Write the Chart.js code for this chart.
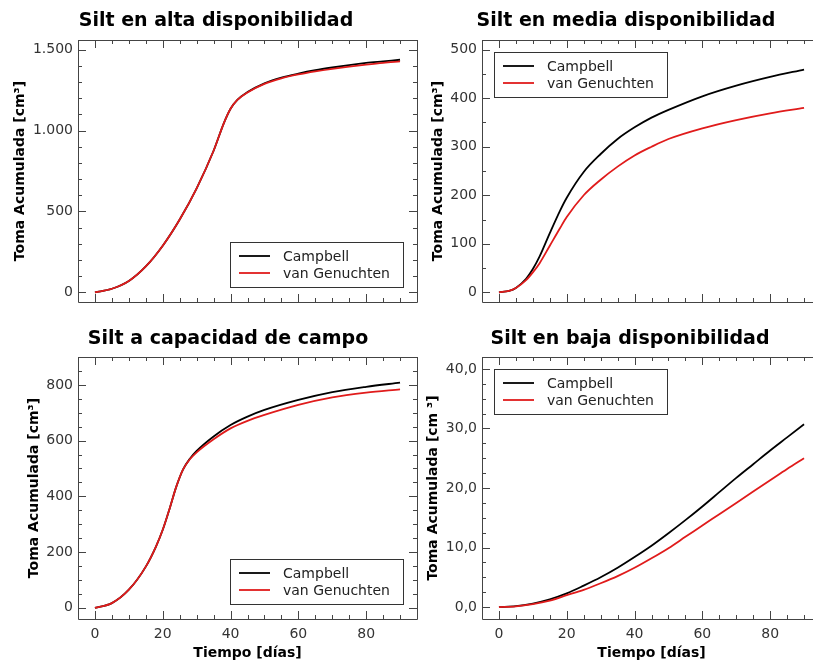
<!DOCTYPE html>
<html lang="es">
<head>
<meta charset="utf-8">
<title>Toma acumulada en Silt</title>
<script src="https://cdn.jsdelivr.net/npm/chart.js@4.4.1/dist/chart.umd.min.js"></script>
<style>
  html, body { margin: 0; background: #fff; overflow: hidden; }
  #figura { position: relative; width: 813px; height: 664px; overflow: hidden; }
  #figura canvas { position: absolute; }
</style>
</head>
<body>
<div id="figura">
  <canvas id="alta" width="430" height="320" style="left:0;top:0"></canvas>
  <canvas id="media" width="415" height="320" style="left:420px;top:0"></canvas>
  <canvas id="campo" width="430" height="344" style="left:0;top:320px"></canvas>
  <canvas id="baja" width="415" height="344" style="left:420px;top:320px"></canvas>
</div>
<script>
// valores (dias vs cm3)
const diasAlta = [0, 5, 10, 15, 20, 25, 30, 35, 38, 40, 42, 45, 50, 55, 60, 65, 70, 75, 80, 85, 90];
const campbellAlta = [0, 22, 70, 160, 288, 450, 643, 875, 1045, 1135, 1190, 1238, 1292, 1327, 1352, 1373, 1390, 1405, 1418, 1428, 1438];
const genuchtenAlta = [0, 22, 70, 160, 288, 450, 643, 875, 1045, 1135, 1190, 1236, 1289, 1323, 1347, 1366, 1382, 1396, 1408, 1419, 1428];

const diasMedia = [0, 3, 5, 8, 10, 12, 15, 18, 20, 25, 30, 35, 40, 45, 50, 60, 70, 80, 90];
const campbellMedia = [0, 3, 9, 28, 48, 74, 122, 168, 195, 248, 285, 316, 340, 360, 376, 404, 426, 444, 459];
const genuchtenMedia = [0, 3, 9, 25, 41, 60, 96, 132, 155, 200, 232, 259, 282, 300, 316, 338, 355, 369, 380];

const diasCampo = [0, 5, 10, 15, 18, 20, 22, 24, 26, 28, 30, 35, 40, 45, 50, 60, 70, 80, 90];
const campbellCampo = [0, 17, 65, 148, 220, 280, 355, 435, 497, 535, 563, 615, 656, 686, 710, 746, 774, 793, 808];
const genuchtenCampo = [0, 17, 65, 148, 220, 280, 355, 435, 497, 533, 558, 605, 644, 671, 692, 728, 755, 772, 784];

const diasBaja = [0, 5, 10, 15, 20, 25, 30, 35, 40, 45, 50, 55, 60, 65, 70, 75, 80, 85, 90];
const campbellBaja = [0, 0.15, 0.6, 1.3, 2.3, 3.6, 5.0, 6.6, 8.4, 10.3, 12.4, 14.6, 16.9, 19.3, 21.7, 24.0, 26.3, 28.5, 30.7];
const genuchtenBaja = [0, 0.12, 0.5, 1.1, 2.0, 2.9, 4.0, 5.2, 6.6, 8.2, 9.9, 11.8, 13.7, 15.6, 17.5, 19.4, 21.3, 23.2, 25.0];

const xTicks = [0, 20, 40, 60, 80];
const yTicksAlta = [0, 500, 1000, 1500];
const yTicksMedia = [0, 100, 200, 300, 400, 500];
const yTicksCampo = [0, 200, 400, 600, 800];
const yTicksBaja = [0, 10, 20, 30, 40];

const NEGRO = "#000000";
const ROJO = "#e01b1b";
const EJE = "#444444";
const FUENTE = '"DejaVu Sans", "Liberation Sans", sans-serif';

Chart.defaults.font.family = FUENTE;
Chart.defaults.font.size = 14;
Chart.defaults.color = "#333333";

const miles = (v) => String(v).replace(/\B(?=(\d{3})+(?!\d))/g, ".");
const decimal = (v) => v.toFixed(1).replace(".", ",");

// marco con marcas hacia adentro en los cuatro lados (mayores y menores)
const marcoPlugin = {
  id: "marco",
  afterDatasetsDraw(chart, args, opts) {
    const { ctx, chartArea: a, scales } = chart;
    const px = (v) => Math.round(v) + 0.5;
    ctx.save();
    ctx.strokeStyle = EJE;
    ctx.lineWidth = 1;
    ctx.beginPath();
    ctx.rect(px(a.left), px(a.top), Math.round(a.right) - Math.round(a.left), Math.round(a.bottom) - Math.round(a.top));

    [["x", opts.xMinor], ["y", opts.yMinor]].forEach(([key, step]) => {
      const scale = scales[key];
      const major = scale.ticks.map((t) => t.value);
      const values = [];
      for (let v = Math.ceil(scale.min / step) * step; v <= scale.max; v += step) values.push(v);
      values.forEach((v) => {
        const len = major.some((m) => Math.abs(m - v) < 1e-6) ? 8 : 4;
        const p = px(scale.getPixelForValue(v));
        if (key === "x") {
          ctx.moveTo(p, a.bottom); ctx.lineTo(p, a.bottom - len);
          ctx.moveTo(p, a.top); ctx.lineTo(p, a.top + len);
        } else {
          ctx.moveTo(a.left, p); ctx.lineTo(a.left + len, p);
          ctx.moveTo(a.right, p); ctx.lineTo(a.right - len, p);
        }
      });
    });
    ctx.stroke();
    ctx.restore();
  }
};

// leyenda con caja dentro del area del grafico
const leyendaPlugin = {
  id: "leyenda",
  afterDatasetsDraw(chart, args, opts) {
    const { ctx, chartArea: a } = chart;
    const items = chart.data.datasets;
    ctx.save();
    ctx.font = `14px ${FUENTE}`;
    const textW = Math.max(...items.map((d) => ctx.measureText(d.label).width));
    const w = Math.round(53 + textW + 13);
    const h = 45;
    const left = Math.round(opts.corner === "br" ? a.right - 14 - w : a.left + 12);
    const top = Math.round(opts.corner === "br" ? a.bottom - 15 - h : a.top + 12);
    ctx.fillStyle = "#ffffff";
    ctx.fillRect(left, top, w, h);
    ctx.strokeStyle = "#333333";
    ctx.lineWidth = 1;
    ctx.strokeRect(left + 0.5, top + 0.5, w, h);
    items.forEach((d, i) => {
      const y = top + 14 + i * 17;
      ctx.strokeStyle = d.borderColor;
      ctx.lineWidth = 1.8;
      ctx.beginPath();
      ctx.moveTo(left + 9, y);
      ctx.lineTo(left + 40, y);
      ctx.stroke();
      ctx.fillStyle = "#222222";
      ctx.textBaseline = "middle";
      ctx.fillText(d.label, left + 53, y + 1);
    });
    ctx.restore();
  }
};

// titulo de cada panel
const tituloPlugin = {
  id: "titulo",
  afterDraw(chart, args, opts) {
    const { ctx } = chart;
    ctx.save();
    ctx.font = `bold 19px ${FUENTE}`;
    ctx.fillStyle = "#000000";
    ctx.textAlign = "center";
    ctx.textBaseline = "alphabetic";
    ctx.fillText(opts.text, opts.x, opts.y);
    ctx.restore();
  }
};

function panel(id, cfg) {
  const serie = (dias, valores) => dias.map((d, i) => ({ x: d, y: valores[i] }));
  return new Chart(document.getElementById(id), {
    type: "line",
    data: {
      datasets: [
        { label: "Campbell", data: serie(cfg.dias, cfg.campbell), borderColor: NEGRO, order: 1 },
        { label: "van Genuchten", data: serie(cfg.dias, cfg.genuchten), borderColor: ROJO, order: 0 }
      ]
    },
    plugins: [marcoPlugin, leyendaPlugin, tituloPlugin],
    options: {
      responsive: false,
      animation: false,
      events: [],
      layout: { padding: { left: 0, right: cfg.padRight, top: cfg.padTop, bottom: cfg.padBottom } },
      elements: {
        point: { radius: 0 },
        line: { borderWidth: 1.8, cubicInterpolationMode: "monotone", fill: false }
      },
      plugins: {
        legend: { display: false },
        tooltip: { enabled: false },
        marco: { xMinor: 5, yMinor: cfg.yMinor },
        leyenda: { corner: cfg.legend },
        titulo: { text: cfg.title, x: cfg.titleX, y: cfg.titleY }
      },
      scales: {
        x: {
          type: "linear",
          min: -5,
          max: 95,
          grid: { display: false, drawTicks: false },
          border: { display: false },
          afterBuildTicks: (ax) => { ax.ticks = xTicks.map((v) => ({ value: v })); },
          afterFit: (ax) => { ax.height = cfg.xHeight; },
          ticks: { display: cfg.showX, padding: 7, maxRotation: 0 },
          title: {
            display: cfg.showX,
            text: "Tiempo [días]",
            color: "#000000",
            font: { size: 14, weight: "bold" },
            padding: { top: 0, bottom: 2.6 }
          }
        },
        y: {
          min: cfg.yMin,
          max: cfg.yMax,
          grid: { display: false, drawTicks: false },
          border: { display: false },
          afterBuildTicks: (ax) => { ax.ticks = cfg.yTicks.map((v) => ({ value: v })); },
          afterFit: (ax) => { ax.width = cfg.yWidth; },
          ticks: { padding: 5, callback: (v) => cfg.format(v) },
          title: {
            display: true,
            text: cfg.yTitle,
            color: "#000000",
            font: { size: 14, weight: "bold" },
            padding: { top: cfg.yTitlePad, bottom: 0 }
          }
        }
      }
    }
  });
}

panel("alta", {
  title: "Silt en alta disponibilidad", titleX: 216, titleY: 26,
  dias: diasAlta, campbell: campbellAlta, genuchten: genuchtenAlta,
  yMin: -60, yMax: 1560, yTicks: yTicksAlta, yMinor: 100, format: miles,
  yTitle: "Toma Acumulada [cm³]", yTitlePad: 11.6, yWidth: 78,
  showX: false, xHeight: 0, padTop: 40, padBottom: 18, padRight: 13, legend: "br"
});

panel("media", {
  title: "Silt en media disponibilidad", titleX: 206, titleY: 26,
  dias: diasMedia, campbell: campbellMedia, genuchten: genuchtenMedia,
  yMin: -20, yMax: 520, yTicks: yTicksMedia, yMinor: 50, format: (v) => String(v),
  yTitle: "Toma Acumulada [cm³]", yTitlePad: 9.6, yWidth: 62,
  showX: false, xHeight: 0, padTop: 40, padBottom: 18, padRight: 14, legend: "tl"
});

panel("campo", {
  title: "Silt a capacidad de campo", titleX: 228, titleY: 24,
  dias: diasCampo, campbell: campbellCampo, genuchten: genuchtenCampo,
  yMin: -40, yMax: 900, yTicks: yTicksCampo, yMinor: 50, format: (v) => String(v),
  yTitle: "Toma Acumulada [cm³]", yTitlePad: 25.8, yWidth: 78,
  showX: true, xHeight: 45, padTop: 37, padBottom: 0, padRight: 13, legend: "br"
});

panel("baja", {
  title: "Silt en baja disponibilidad", titleX: 210, titleY: 24,
  dias: diasBaja, campbell: campbellBaja, genuchten: genuchtenBaja,
  yMin: -2, yMax: 42, yTicks: yTicksBaja, yMinor: 2.5, format: decimal,
  yTitle: "Toma Acumulada [cm ³]", yTitlePad: 4.6, yWidth: 62,
  showX: true, xHeight: 45, padTop: 37, padBottom: 0, padRight: 14, legend: "tl"
});
</script>
</body>
</html>
